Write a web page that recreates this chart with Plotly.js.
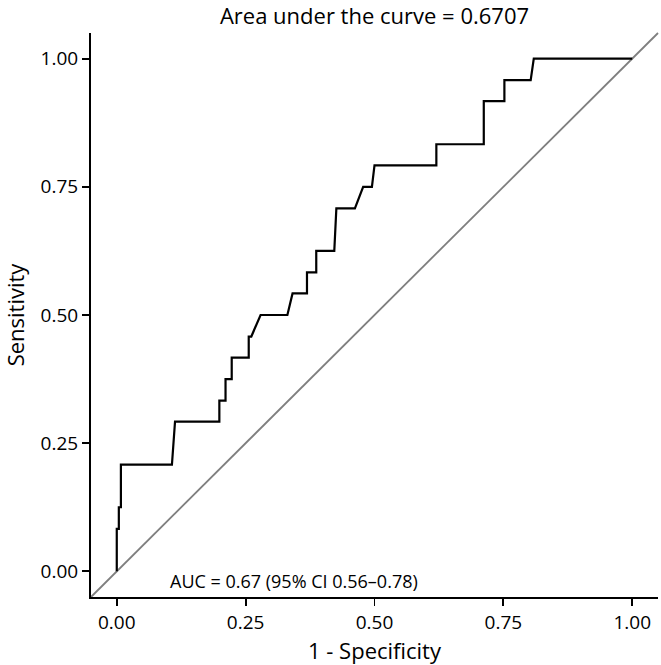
<!DOCTYPE html>
<html>
<head>
<meta charset="utf-8">
<script src="https://cdn.plot.ly/plotly-3.0.1.min.js"></script>
<style>html,body{margin:0;padding:0;background:#fff;}#chart{width:661px;height:665px;}</style>
</head>
<body>
<div id="chart"></div>
<script>
// ROC curve points (1 - specificity, sensitivity)
const fpr = [0, 0, 0.004, 0.004, 0.008, 0.008, 0.107, 0.113, 0.199, 0.199, 0.211, 0.211, 0.223, 0.223,
  0.256, 0.256, 0.261, 0.279, 0.331, 0.341, 0.369, 0.369, 0.387, 0.387, 0.422, 0.426, 0.462, 0.478,
  0.495, 0.500, 0.620, 0.620, 0.712, 0.712, 0.752, 0.752, 0.803, 0.809, 1.0];
const tpr = [0, 0.083, 0.083, 0.125, 0.125, 0.208, 0.208, 0.292, 0.292, 0.333, 0.333, 0.375, 0.375, 0.417,
  0.417, 0.458, 0.458, 0.5, 0.5, 0.542, 0.542, 0.583, 0.583, 0.625, 0.625, 0.708, 0.708, 0.75,
  0.75, 0.792, 0.792, 0.833, 0.833, 0.917, 0.917, 0.958, 0.958, 1.0, 1.0];
const tickVals = [0, 0.25, 0.5, 0.75, 1];
const tickText = ["0.00", "0.25", "0.50", "0.75", "1.00"];
const titleText = "Area under the curve = 0.6707";
const aucText = "AUC = 0.67 (95% CI 0.56–0.78)";

const FONT = "Open Sans, Noto Sans, sans-serif";
const axisCommon = {
  range: [-0.05, 1.05],
  tickvals: tickVals,
  ticktext: tickText,
  ticks: "outside",
  ticklen: 7,
  tickwidth: 1.8,
  tickcolor: "#000",
  showline: true,
  linecolor: "#000",
  linewidth: 2,
  showgrid: false,
  zeroline: false,
  tickfont: {family: FONT, size: 19, color: "#000"},
  fixedrange: true
};

const data = [{
  x: fpr, y: tpr, type: "scatter", mode: "lines",
  line: {color: "#000", width: 2.2, shape: "linear"},
  hoverinfo: "skip", showlegend: false
}];

const layout = {
  width: 661, height: 665,
  margin: {l: 91, r: 3, t: 33, b: 68},
  paper_bgcolor: "#fff", plot_bgcolor: "#fff",
  font: {family: FONT, color: "#000"},
  title: {text: titleText, font: {family: FONT, size: 22, color: "#000"},
    x: 0.5, xref: "paper", xanchor: "center", y: 1 - 16/665, yref: "container", yanchor: "middle"},
  xaxis: Object.assign({}, axisCommon, {
    title: {text: "1 - Specificity", font: {family: FONT, size: 22, color: "#000"}, standoff: 2}
  }),
  yaxis: Object.assign({}, axisCommon, {
    title: {text: "Sensitivity", font: {family: FONT, size: 22, color: "#000"}, standoff: 18}
  }),
  shapes: [{
    type: "line", xref: "paper", yref: "paper", x0: 0, y0: 0, x1: 1, y1: 1,
    line: {color: "#7f7f7f", width: 1.8}, layer: "below"
  }],
  annotations: [{
    text: aucText, x: 0.344, y: -0.019, xref: "x", yref: "y",
    xanchor: "center", yanchor: "middle", showarrow: false,
    font: {family: FONT, size: 18, color: "#000"}
  }]
};

Plotly.newPlot("chart", data, layout, {displayModeBar: false, staticPlot: true});
</script>
</body>
</html>
